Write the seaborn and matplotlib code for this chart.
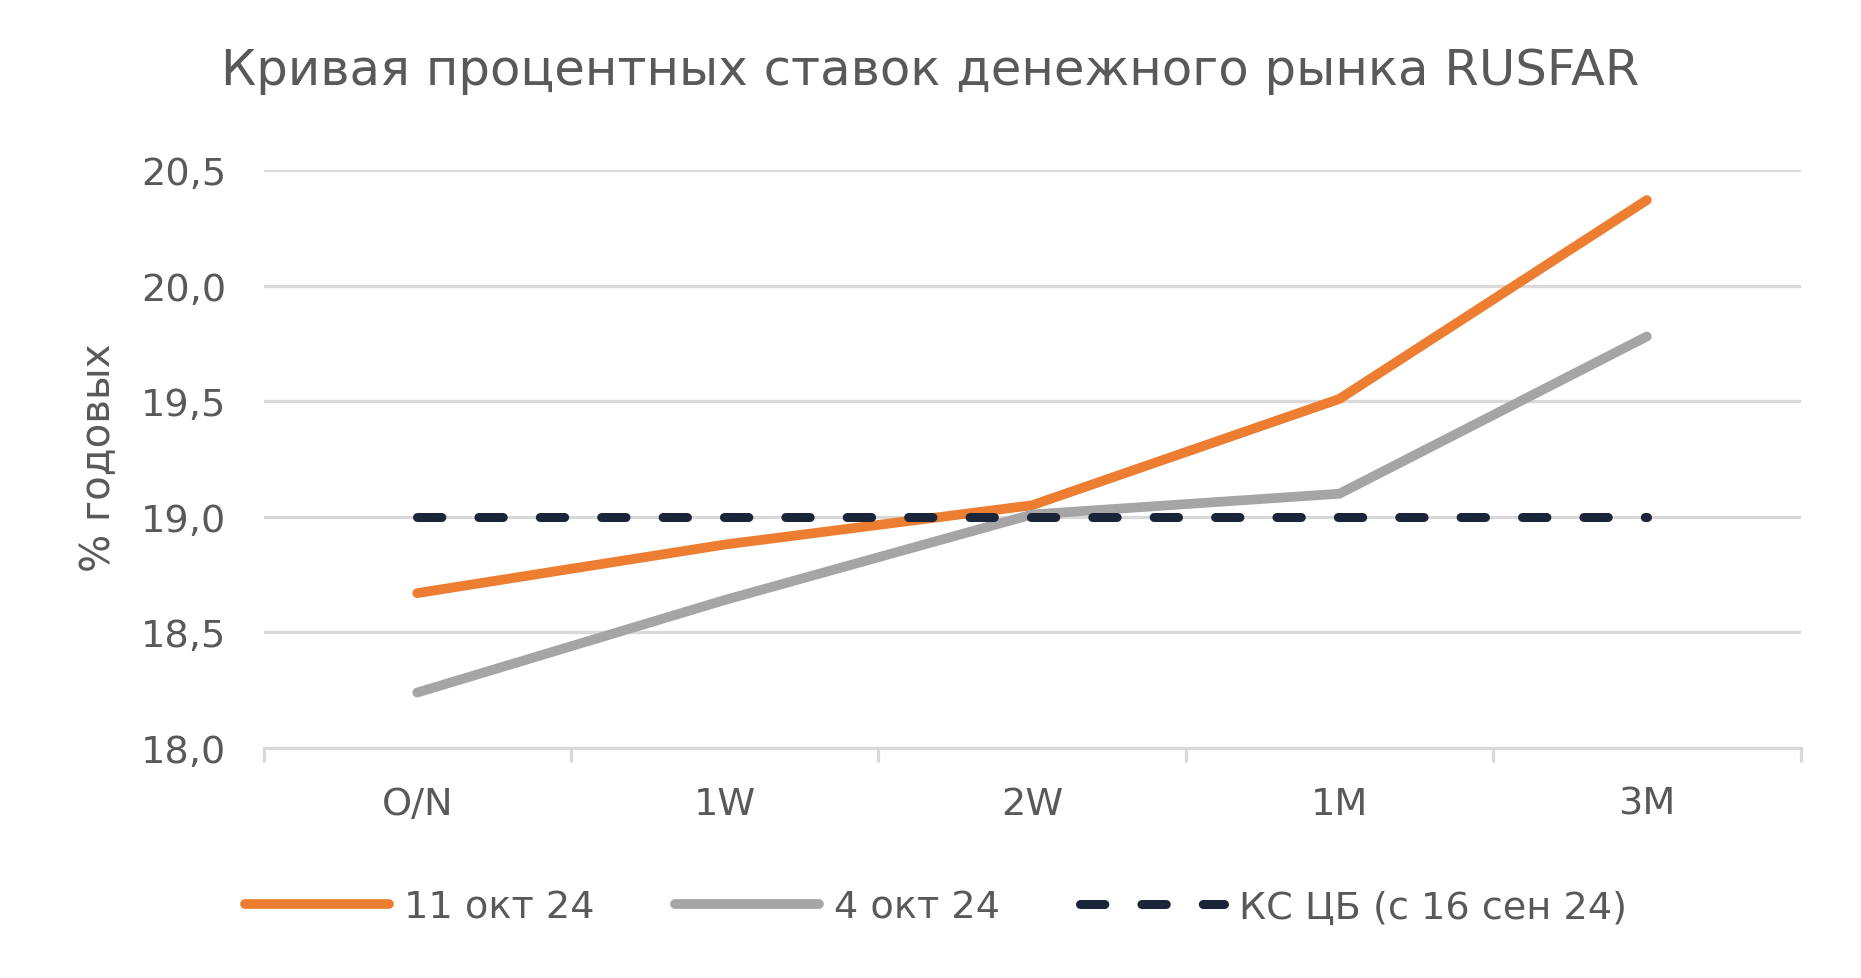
import numpy as np
import matplotlib.pyplot as plt
import pandas as pd
import seaborn as sns
from matplotlib.ticker import FixedLocator

# data
terms = ['O/N', '1W', '2W', '1M', '3M']
rate_11oct = [18.67, 18.88, 19.05, 19.51, 20.37]
rate_4oct = [18.24, 18.64, 19.01, 19.10, 19.78]
key_rate = [19.0, 19.0, 19.0, 19.0, 19.0]
series_names = ['11 окт 24', '4 окт 24', 'КС ЦБ (с 16 сен 24)']
yticks = [18.0, 18.5, 19.0, 19.5, 20.0, 20.5]

TXT = '#595959'
GRID = '#d9d9d9'

sns.set_theme(style='white')
plt.rcParams['font.family'] = ['DejaVu Sans']

df = pd.DataFrame({'pos': np.arange(len(terms)), 'term': terms,
                   series_names[0]: rate_11oct,
                   series_names[1]: rate_4oct,
                   series_names[2]: key_rate})

fig = plt.figure(figsize=(18.61, 9.79), dpi=100)
ax = fig.add_axes([0.1416, 0.2349, 0.8259, 0.5904])

sns.lineplot(data=df, x='pos', y=series_names[0], ax=ax, color='#ED7D31',
             linewidth=7, solid_capstyle='round', label=series_names[0], legend=False)
sns.lineplot(data=df, x='pos', y=series_names[1], ax=ax, color='#A5A5A5',
             linewidth=7, solid_capstyle='round', label=series_names[1], legend=False)
sns.lineplot(data=df, x='pos', y=series_names[2], ax=ax, color='#1a253a',
             linewidth=6.5, linestyle=(0, (2.7, 4.1)), dash_capstyle='round',
             label=series_names[2], legend=False)

ax.set_xlim(-0.5, len(terms) - 0.5)
ax.set_ylim(yticks[0], yticks[-1])
ax.set_xticks(df['pos'])
ax.set_xticklabels(terms)
ax.xaxis.set_minor_locator(FixedLocator(np.arange(len(terms) + 1) - 0.5))
ax.set_yticks(yticks)
ax.set_yticklabels([f'{v:.1f}'.replace('.', ',') for v in yticks])
ax.set_xlabel('')
ax.set_ylabel('')

ax.yaxis.grid(True, color=GRID, linewidth=2.3)
ax.xaxis.grid(False)
ax.set_axisbelow(True)
for s in ['left', 'right', 'top']:
    ax.spines[s].set_visible(False)
ax.spines['bottom'].set_color(GRID)
ax.spines['bottom'].set_linewidth(2.3)

ax.tick_params(axis='x', which='major', length=0, pad=27, labelsize=27.5, labelcolor=TXT)
ax.tick_params(axis='x', which='minor', bottom=True, length=10, width=2.3, color=GRID)
ax.tick_params(axis='y', length=0, pad=27, labelsize=27.5, labelcolor=TXT)

fig.text(0.5, 0.927, 'Кривая процентных ставок денежного рынка RUSFAR',
         ha='center', va='center', fontsize=35.8, color=TXT)
fig.text(0.053, 0.533, '% годовых', rotation=90, ha='center', va='center',
         fontsize=29, color=TXT)

handles = ax.get_lines()[:3]
fig.legend(handles, series_names, loc='center', bbox_to_anchor=(0.503, 0.072),
           ncol=3, frameon=False, fontsize=27.5, labelcolor=TXT,
           handlelength=3.77, handletextpad=0.4, columnspacing=2.1)

fig.savefig('out.png', dpi=100)
